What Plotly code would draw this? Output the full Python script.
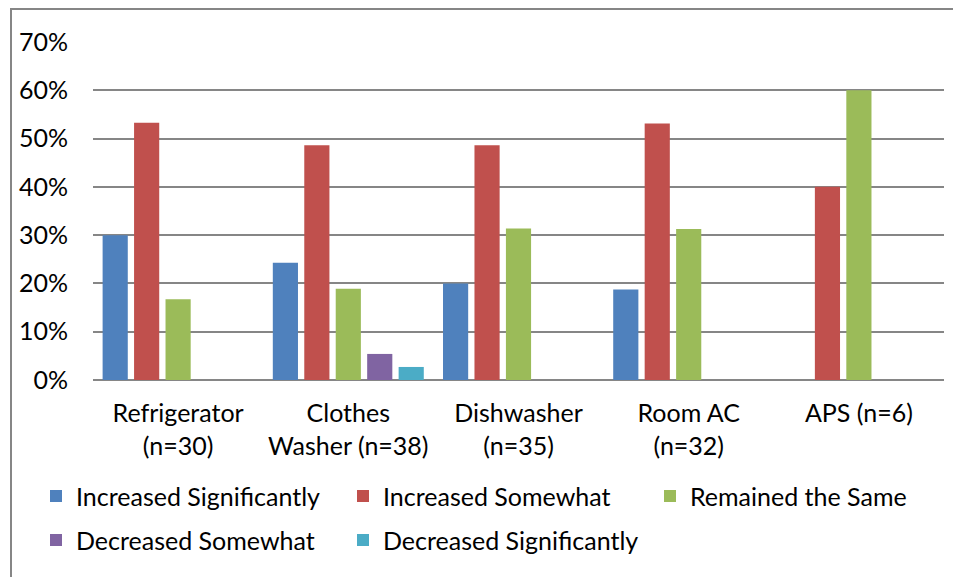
import plotly.graph_objects as go

categories = ["Refrigerator<br>(n=30)", "Clothes<br>Washer (n=38)", "Dishwasher<br>(n=35)", "Room AC<br>(n=32)", "APS (n=6)"]
series_names = ["Increased Significantly", "Increased Somewhat", "Remained the Same", "Decreased Somewhat", "Decreased Significantly"]
increased_significantly = [0.300, 0.243, 0.200, 0.1875, 0.0]
increased_somewhat = [0.533, 0.486, 0.486, 0.531, 0.400]
remained_same = [0.167, 0.189, 0.314, 0.3125, 0.600]
decreased_somewhat = [0.0, 0.054, 0.0, 0.0, 0.0]
decreased_significantly = [0.0, 0.027, 0.0, 0.0, 0.0]
colors = ["#4F81BD", "#C0504D", "#9BBB59", "#8064A2", "#4BACC6"]
y_ticks = [0, 0.1, 0.2, 0.3, 0.4, 0.5, 0.6, 0.7]

FONT = "Lato"
series_values = [increased_significantly, increased_somewhat, remained_same, decreased_somewhat, decreased_significantly]
legend_ids = ["legend", "legend", "legend", "legend2", "legend2"]

OFF = 8  # page offset of the figure (body margin)
W, H = 961, 577
# plot area in page coordinates: x 93..944, y 42..380.5
L = 93 - OFF
T = 42 - OFF
R = W - (944 - OFF)
B = H - (380.5 - OFF)
pw, ph = W - L - R, H - T - B

def fx(page_x):
    return (page_x - OFF - L) / pw

def fy(page_y):
    return (H - B - (page_y - OFF)) / ph

fig = go.Figure()
for name, vals, col, lg in zip(series_names, series_values, colors, legend_ids):
    fig.add_trace(go.Bar(x=categories, y=vals, name=name, legend=lg,
                         marker=dict(color=col, line=dict(width=0))))

legend_common = dict(orientation="h", xanchor="left", yanchor="top",
                     entrywidth=262, entrywidthmode="pixels",
                     font=dict(family=FONT, size=25, color="#000000"),
                     itemwidth=30, traceorder="normal", bgcolor="rgba(0,0,0,0)")

fig.update_layout(
    width=W, height=H,
    margin=dict(l=L, r=R, t=T, b=B, pad=0),
    paper_bgcolor="white", plot_bgcolor="white",
    font=dict(family=FONT, size=25, color="#000000"),
    barmode="group", bargap=0.076, bargroupgap=0.2,
    showlegend=True,
    legend=dict(x=fx(36), y=fy(474), **legend_common),
    legend2=dict(x=fx(36), y=fy(518), **legend_common),
    xaxis=dict(showgrid=False, showline=False, ticks="", tickfont=dict(size=25),
               ticklabelstandoff=16),
    yaxis=dict(range=[0, 0.7], tickvals=y_ticks, tickformat=".0%", showgrid=True,
               gridcolor="#868686", gridwidth=1.5, zeroline=True, zerolinecolor="#868686",
               zerolinewidth=1.5, showline=False, ticks="", ticklabelstandoff=24,
               tickfont=dict(size=25)),
    shapes=[
        dict(type="line", xref="paper", yref="paper", x0=fx(11), x1=fx(11), y0=fy(8), y1=fy(600),
             line=dict(color="#868686", width=2)),
        dict(type="line", xref="paper", yref="paper", x0=fx(10), x1=fx(980), y0=fy(9), y1=fy(9),
             line=dict(color="#868686", width=2)),
    ],
)

fig.write_html("out.html")
